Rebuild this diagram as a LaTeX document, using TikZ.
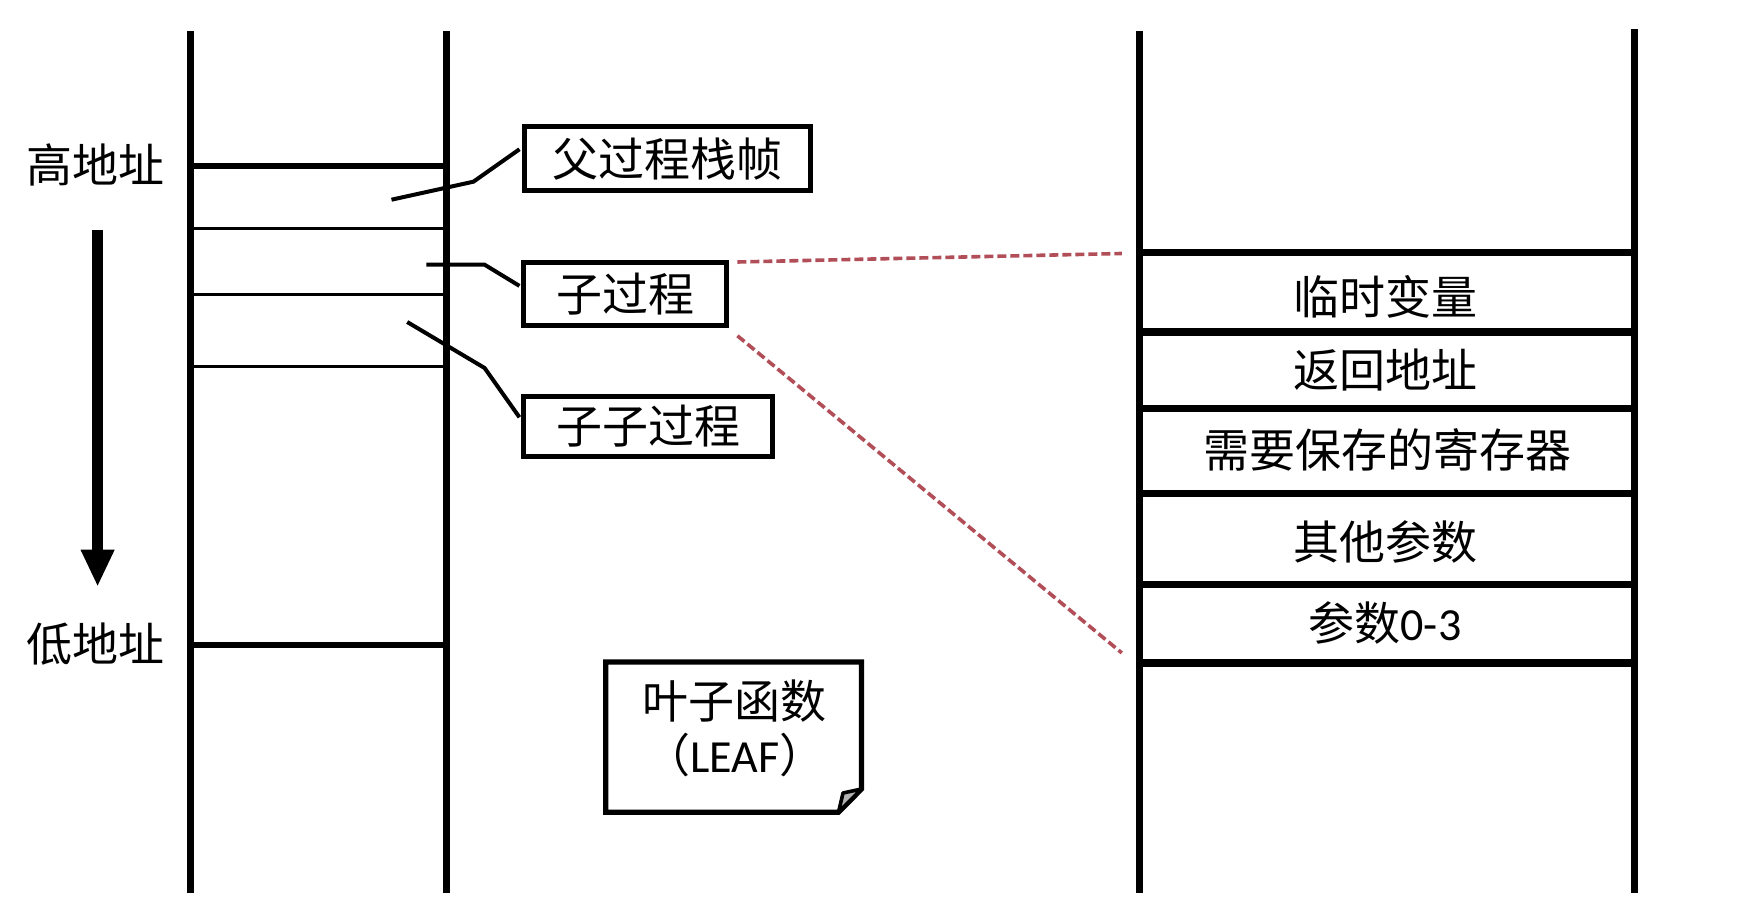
\documentclass[tikz,border=0pt]{standalone}
\usepackage{fontspec}
\setmainfont{Carlito}
\newfontfamily\cjk{Noto Sans CJK SC}
\usetikzlibrary{calc}
\definecolor{dashred}{RGB}{178,78,88}
\begin{document}
\begin{tikzpicture}[x=0.5pt,y=-0.5pt,
  stackline/.style={line width=3.4pt},
  thickh/.style={line width=3pt},
  thinh/.style={line width=1.5pt},
  rsep/.style={line width=3.6pt},
  callbox/.style={draw,line width=2.5pt,inner sep=0pt,font=\cjk\fontsize{23}{26}\selectfont},
  callline/.style={line width=2pt},
  lbl/.style={inner sep=0pt,font=\fontsize{23}{26}\selectfont},
  zoomline/.style={dashred,line width=1.8pt,dash pattern=on 4.5pt off 2pt}
]
\useasboundingbox (0,0) rectangle (1759,903);
\fill[white] (0,0) rectangle (1759,903);

% left stack
\draw[stackline] (190.7,31) -- (190.7,893);
\draw[stackline] (446.5,31) -- (446.5,893);
\draw[thickh] (190.7,166) -- (446.5,166);
\draw[thinh] (190.7,228.8) -- (446.5,228.8);
\draw[thinh] (190.7,295) -- (446.5,295);
\draw[thinh] (190.7,366.8) -- (446.5,366.8);
\draw[thickh] (190.7,645) -- (446.5,645);

% address labels and arrow
\node[lbl,font=\cjk\fontsize{23}{26}\selectfont] (hi) at (95.4,165) {高地址};
\node[lbl,font=\cjk\fontsize{23}{26}\selectfont] (lo) at (95.4,644) {低地址};
\fill (92.1,230) rectangle (103.1,551);
\fill (80.5,549.7) -- (114.7,549.7) -- (97.6,585.6) -- cycle;

% callout boxes
\node[callbox,minimum width=143pt,minimum height=32pt] (fu) at (667,158.75) {父过程栈帧};
\node[callbox,minimum width=101.5pt,minimum height=31.4pt] (sub) at (625.45,293.9) {子过程};
\node[callbox,minimum width=124.5pt,minimum height=30.3pt] (subsub) at (648.45,426.3) {子子过程};

% callout lines
\coordinate (cfu) at (391.5,199.7);
\coordinate (csub) at (426.3,264.7);
\coordinate (csubsub) at (407.2,322);
\draw[callline] (cfu) -- (473.4,181.7) -- ([shift={(-2,-9.5)}]fu.west);
\draw[callline] (csub) -- (484.6,264.7) -- ([shift={(-2,-8)}]sub.west);
\draw[callline] (csubsub) -- (484.6,368) -- ([shift={(-2,-9)}]subsub.west);

% right stack
\draw[stackline] (1139.7,31) -- (1139.7,893);
\draw[stackline] (1634.5,29) -- (1634.5,893);
\draw[rsep] (1139.7,252.4) -- (1634.5,252.4);
\draw[rsep] (1139.7,332) -- (1634.5,332);
\draw[rsep] (1139.7,408.3) -- (1634.5,408.3);
\draw[rsep] (1139.7,493.6) -- (1634.5,493.6);
\draw[rsep] (1139.7,584.5) -- (1634.5,584.5);
\draw[rsep] (1139.7,663) -- (1634.5,663);
\node[lbl,font=\cjk\fontsize{23}{26}\selectfont] (r1) at (1385,297.3) {临时变量};
\node[lbl,font=\cjk\fontsize{23}{26}\selectfont] (r2) at (1385,370.2) {返回地址};
\node[lbl,font=\cjk\fontsize{23}{26}\selectfont] (r3) at (1387,449.8) {需要保存的寄存器};
\node[lbl,font=\cjk\fontsize{23}{26}\selectfont] (r4) at (1385,541.8) {其他参数};
\node[lbl] (r5) at (1385,622.6) {{\cjk 参数}0-3};

% zoom lines
\coordinate (ztop) at (1121.8,253.5);
\coordinate (zbot) at (1121.8,652.9);
\draw[zoomline] ([shift={(8,2)}]sub.north east) -- (ztop);
\draw[zoomline] ([shift={(8,8)}]sub.south east) -- (zbot);

% leaf note
\draw[line width=2.6pt,line join=miter] (605.8,661.9) -- (861.5,661.9) -- (861.5,789) -- (838.5,812.2) -- (605.8,812.2) -- cycle;
\filldraw[fill=gray!60,line width=1.8pt,line join=round] (861.5,789) -- (838.5,812.2) -- (843,793) -- cycle;
\node[lbl,font=\cjk\fontsize{23}{26}\selectfont] (leaf1) at (734.8,701) {叶子函数};
\node[lbl] (leaf2) at (734.8,755) {{\cjk （}LEAF{\cjk ）}};
\end{tikzpicture}
\end{document}
